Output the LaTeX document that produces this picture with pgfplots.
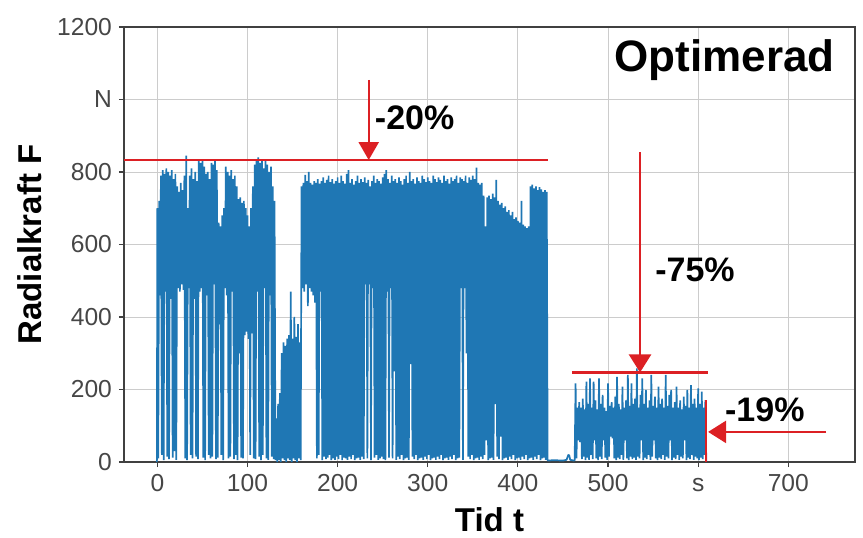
\documentclass[border=0pt]{standalone}
\usepackage{fontspec}
\setmainfont{Liberation Sans}
\usepackage{pgfplots}
\pgfplotsset{compat=1.18}
\usetikzlibrary{arrows.meta}
\definecolor{sig}{RGB}{31,119,180}
\definecolor{ann}{RGB}{220,32,36}
\definecolor{tickc}{RGB}{70,70,70}
\begin{document}
\begin{tikzpicture}
\begin{axis}[
 scale only axis, width=365.5pt, height=217.5pt,
 xmin=-37, xmax=774, ymin=0, ymax=1200,
 xtick={0,100,200,300,400,500,600,700},
 xticklabels={0,100,200,300,400,500,s,700},
 ytick={0,200,400,600,800,1000,1200},
 yticklabels={0,200,400,600,800,N,1200},
 tick pos=left, tick align=outside, major tick length=2.5pt,
 grid=major, major grid style={black!20, line width=0.5pt},
 axis line style={black!75, line width=0.6pt},
 tick style={black!75, line width=0.6pt},
 ticklabel style={font=\fontsize{12.3}{14}\selectfont, text=tickc},
 xticklabel style={text height=8.9pt, text depth=0pt},
 /pgf/number format/assume math mode=true,
 xlabel={Tid t}, ylabel={Radialkraft F},
 label style={font=\fontsize{16.5}{19}\selectfont\bfseries},
 xlabel style={at={(axis description cs:0.5,-0.133)}, anchor=center},
 ylabel style={at={(axis description cs:-0.1286,0.5)}, anchor=center},
]
\coordinate (SW) at (rel axis cs:0,0);
\coordinate (NE) at (rel axis cs:1,1);
\addplot[sig, line width=0.85pt, line join=bevel] coordinates {
(-0.5,0)(0,700)(1,10)(2,720)(3,460)(4,790)(5,20)(6,805)(7,5)(8,795)(9,470)(10,810)(11,15)(12,800)(13,8)(14,790)(15,450)(16,805)(17,12)(18,780)(19,30)(20,795)(21,6)(22,760)(23,480)(24,745)(25,470)(26,770)(27,490)(28,750)(29,475)(30,790)(31,10)(32,845)(33,5)(34,700)(35,480)(36,790)(37,20)(38,810)(39,10)(40,780)(41,450)(42,800)(43,15)(44,775)(45,8)(46,830)(47,470)(48,825)(49,480)(50,835)(51,12)(52,815)(53,5)(54,795)(55,460)(56,800)(57,20)(58,780)(59,10)(60,825)(61,15)(62,820)(63,490)(64,830)(65,8)(66,805)(67,12)(68,660)(69,380)(70,650)(71,20)(72,680)(73,5)(74,700)(75,480)(76,815)(77,460)(78,800)(79,10)(80,790)(81,15)(82,805)(83,470)(84,780)(85,8)(86,790)(87,20)(88,760)(89,5)(90,725)(91,300)(92,730)(93,12)(94,715)(95,10)(96,720)(97,350)(98,700)(99,360)(100,680)(101,340)(102,650)(103,20)(104,700)(105,355)(106,760)(107,10)(108,820)(109,8)(110,835)(111,470)(112,840)(113,15)(114,825)(115,5)(116,835)(117,20)(118,810)(119,480)(120,830)(121,10)(122,820)(123,6)(124,800)(125,460)(126,815)(127,15)(128,760)(129,8)(130,720)(131,5)
(132,120)(133,0)(134,160)(135,5)(136,190)(137,0)(138,300)(139,10)(140,330)(141,5)(142,320)(143,0)(144,340)(145,10)(146,350)(147,5)(148,470)(149,0)(150,340)(151,10)(152,400)(153,5)(154,345)(155,0)(156,380)(157,10)(158,330)(159,5)
(160,760)(161,480)(162,770)(163,470)(164,792)(165,490)(166,775)(167,430)(168,800)(169,480)(170,770)(171,470)(172,765)(173,460)(174,775)(175,440)(176,770)(177,10)(178,780)(179,20)(180,768)(181,470)(182,775)(183,5)(184,785)(185,15)(186,770)(187,8)(188,778)(189,12)(190,790)(191,20)(192,772)(193,5)(194,780)(195,10)(196,768)(197,6)(198,775)(199,15)(200,785)(201,8)(202,770)(203,20)(204,790)(205,5)(206,775)(207,12)(208,768)(209,10)(210,795)(211,6)(212,805)(213,15)(214,770)(215,8)(216,780)(217,20)(218,765)(219,5)(220,775)(221,10)(222,790)(223,12)(224,770)(225,6)(226,780)(227,15)(228,772)(229,8)(230,785)(231,490)(232,770)(233,10)(234,778)(235,490)(236,760)(237,5)(238,775)(239,480)(240,790)(241,12)(242,770)(243,20)(244,780)(245,6)(246,775)(247,10)(248,768)(249,15)(250,785)(251,8)(252,795)(253,5)(254,805)(255,470)(256,780)(257,12)(258,770)(259,480)(260,790)(261,10)(262,775)(263,250)(264,780)(265,6)(266,770)(267,15)(268,785)(269,8)(270,775)(271,20)(272,765)(273,5)(274,780)(275,10)(276,790)(277,12)(278,770)(279,6)(280,800)(281,270)(282,775)(283,15)(284,780)(285,8)(286,768)(287,20)(288,785)(289,5)(290,775)(291,10)(292,770)(293,12)(294,790)(295,6)(296,780)(297,15)(298,772)(299,8)(300,785)(301,20)(302,775)(303,5)(304,770)(305,10)(306,790)(307,12)(308,780)(309,6)(310,772)(311,15)(312,785)(313,8)(314,778)(315,20)(316,770)(317,5)(318,790)(319,10)(320,775)(321,12)(322,780)(323,6)(324,768)(325,15)(326,785)(327,8)(328,775)(329,20)(330,780)(331,5)(332,790)(333,10)(334,770)(335,12)(336,785)(337,480)(338,780)(339,6)(340,775)(341,480)(342,790)(343,300)(344,770)(345,15)(346,785)(347,8)(348,778)(349,20)(350,790)(351,5)(352,780)(353,10)(354,812)(355,12)(356,770)(357,6)(358,765)(359,15)(360,770)(361,8)(362,735)(363,20)(364,650)(365,60)(366,730)(367,5)(368,735)(369,10)(370,725)(371,12)(372,740)(373,6)(374,730)(375,160)(376,778)(377,15)(378,720)(379,8)(380,710)(381,70)(382,715)(383,5)(384,700)(385,10)(386,705)(387,12)(388,690)(389,6)(390,695)(391,15)(392,680)(393,8)(394,690)(395,20)(396,670)(397,5)(398,675)(399,10)(400,665)(401,12)(402,660)(403,6)(404,720)(405,15)(406,655)(407,8)(408,650)(409,20)(410,645)(411,5)(412,650)(413,10)(414,760)(415,12)(416,765)(417,6)(418,755)(419,15)(420,760)(421,8)(422,750)(423,20)(424,758)(425,5)(426,752)(427,10)(428,745)(429,12)(430,750)(431,6)(432,745)(433,4)
(440,5)(450,4)(454,6)(456,20)(457,18)(458,6)(462,4)
(463,5)(464,217)(465,10)(466,150)(467,60)(468,165)(469,55)(470,150)(471,8)(472,175)(473,15)(474,145)(475,5)(476,222)(477,12)(478,160)(479,6)(480,231)(481,20)(482,150)(483,8)(484,222)(485,60)(486,170)(487,10)(488,145)(489,5)(490,231)(491,15)(492,160)(493,8)(494,185)(495,60)(496,150)(497,12)(498,140)(499,6)(500,217)(501,15)(502,155)(503,70)(504,165)(505,65)(506,150)(507,10)(508,180)(509,5)(510,235)(511,12)(512,160)(513,8)(514,145)(515,20)(516,208)(517,6)(518,150)(519,60)(520,170)(521,10)(522,240)(523,5)(524,155)(525,15)(526,217)(527,8)(528,160)(529,12)(530,175)(531,6)(532,258)(533,15)(534,150)(535,10)(536,185)(537,60)(538,231)(539,5)(540,160)(541,12)(542,199)(543,8)(544,150)(545,20)(546,170)(547,6)(548,240)(549,15)(550,155)(551,60)(552,180)(553,10)(554,150)(555,5)(556,208)(557,12)(558,160)(559,8)(560,175)(561,20)(562,150)(563,6)(564,240)(565,15)(566,155)(567,10)(568,185)(569,60)(570,199)(571,5)(572,150)(573,12)(574,165)(575,8)(576,208)(577,20)(578,150)(579,6)(580,170)(581,15)(582,145)(583,10)(584,180)(585,60)(586,155)(587,5)(588,199)(589,12)(590,150)(591,8)(592,212)(593,20)(594,160)(595,6)(596,175)(597,15)(598,150)(599,10)(600,203)(601,5)(602,160)(603,12)(604,194)(605,8)(606,150)(607,20)(608,171)(609,0)
};
\draw[ann, line width=1.4pt] (axis cs:-37,833) -- (axis cs:433,833);
\draw[ann, line width=1.2pt, -{Triangle[width=10pt,length=9pt]}] (axis cs:234.5,1054) -- (axis cs:234.5,833);
\node[anchor=base west, font=\fontsize{17}{20}\selectfont\bfseries, inner sep=0pt] at (axis cs:241,918) {-20\%};
\draw[ann, line width=1.4pt] (axis cs:460,247) -- (axis cs:611,247);
\draw[ann, line width=1.2pt, -{Triangle[width=11pt,length=9pt]}] (axis cs:535.5,855) -- (axis cs:535.5,247);
\node[anchor=base west, font=\fontsize{17}{20}\selectfont\bfseries, inner sep=0pt] at (axis cs:552,499) {-75\%};
\draw[ann, line width=1.2pt, -{Triangle[width=11pt,length=9pt]}] (axis cs:742,83) -- (axis cs:611,83);
\node[anchor=base west, font=\fontsize{17}{20}\selectfont\bfseries, inner sep=0pt] at (axis cs:629.5,111) {-19\%};
\draw[ann, line width=1pt] (axis cs:608.5,0) -- (axis cs:608.5,171);
\node[anchor=base east, font=\fontsize{22}{26}\selectfont\bfseries, inner sep=0pt] at (axis cs:752,1077) {Optimerad};
\end{axis}
\pgfresetboundingbox
\path ([shift={(-62pt,-37.5pt)}]SW) rectangle ([shift={(4pt,13.5pt)}]NE);
\end{tikzpicture}
\end{document}
